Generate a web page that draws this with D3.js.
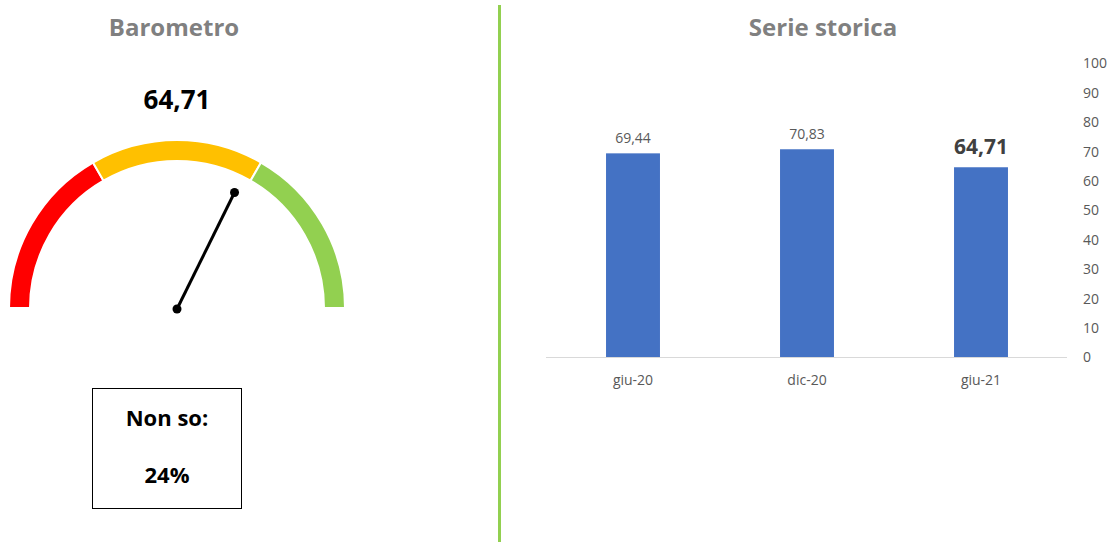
<!DOCTYPE html>
<html>
<head>
<meta charset="utf-8">
<script src="https://cdn.jsdelivr.net/npm/d3@7"></script>
<style>
  html, body { margin: 0; padding: 0; background: #fff; }
  svg { display: block; font-family: "Open Sans", "Noto Sans", sans-serif; }
</style>
</head>
<body>
<svg id="chart" width="1109" height="542"></svg>
<script>
// Gauge bands (score thresholds) and current reading
const gaugeBands = [0, 33.33, 66.67, 100];
const gaugeColors = ["#ff0000", "#ffc000", "#92d050"];
const gaugeValue = 64.71;
const gaugeLabel = "64,71";
const dontKnowLabel = "Non so:";
const dontKnowValue = "24%";

// Historical series
const periods = ["giu-20", "dic-20", "giu-21"];
const scores = [69.44, 70.83, 64.71];
const scoreLabels = ["69,44", "70,83", "64,71"];
const yTicks = [0, 10, 20, 30, 40, 50, 60, 70, 80, 90, 100];

const svg = d3.select("#chart");

// ---------- Barometro ----------
const g = svg.append("g").attr("transform", "translate(177,308)");

svg.append("text")
  .attr("x", 174).attr("y", 26)
  .attr("text-anchor", "middle").attr("dominant-baseline", "central")
  .attr("font-size", 24).attr("font-weight", 700).attr("fill", "#808080")
  .text("Barometro");

svg.append("text")
  .attr("x", 177).attr("y", 99)
  .attr("text-anchor", "middle").attr("dominant-baseline", "central")
  .attr("font-size", 26).attr("font-weight", 700).attr("fill", "#000")
  .text(gaugeLabel);

const angle = d3.scaleLinear().domain([0, 100]).range([-Math.PI / 2, Math.PI / 2]);
const arc = d3.arc().innerRadius(147).outerRadius(168);

g.selectAll("path.band")
  .data(gaugeColors)
  .join("path")
  .attr("class", "band")
  .attr("d", (c, i) => arc({ startAngle: angle(gaugeBands[i]), endAngle: angle(gaugeBands[i + 1]) }))
  .attr("fill", c => c)
  .attr("stroke", "#fff")
  .attr("stroke-width", 2);

// Needle
const needleLen = 129;
const a = angle(gaugeValue);
const nx = needleLen * Math.sin(a), ny = -needleLen * Math.cos(a);
g.append("line")
  .attr("x1", 0).attr("y1", 1).attr("x2", nx).attr("y2", ny)
  .attr("stroke", "#000").attr("stroke-width", 3);
g.append("circle").attr("cx", 0).attr("cy", 1).attr("r", 4.5).attr("fill", "#000");
g.append("circle").attr("cx", nx).attr("cy", ny).attr("r", 4.5).attr("fill", "#000");

// "Non so" box
svg.append("rect")
  .attr("x", 92.5).attr("y", 388.5).attr("width", 149).attr("height", 120)
  .attr("fill", "#fff").attr("stroke", "#000").attr("stroke-width", 1);
svg.append("text")
  .attr("x", 167).attr("y", 417)
  .attr("text-anchor", "middle").attr("dominant-baseline", "central")
  .attr("font-size", 22).attr("font-weight", 700).attr("fill", "#000")
  .text(dontKnowLabel);
svg.append("text")
  .attr("x", 167).attr("y", 474)
  .attr("text-anchor", "middle").attr("dominant-baseline", "central")
  .attr("font-size", 22).attr("font-weight", 700).attr("fill", "#000")
  .text(dontKnowValue);

// Divider
svg.append("line")
  .attr("x1", 499.5).attr("x2", 499.5).attr("y1", 5).attr("y2", 542)
  .attr("stroke", "#92d050").attr("stroke-width", 3);

// ---------- Serie storica ----------
svg.append("text")
  .attr("x", 823).attr("y", 26)
  .attr("text-anchor", "middle").attr("dominant-baseline", "central")
  .attr("font-size", 24).attr("font-weight", 700).attr("fill", "#808080")
  .text("Serie storica");

const x = d3.scaleBand().domain(periods).range([546, 1068])
  .paddingInner(0.69).paddingOuter(0.345);
const y = d3.scaleLinear().domain([0, 100]).range([357.5, 63.5]);

// Right-hand value axis
const yAxis = svg.append("g")
  .attr("transform", "translate(1076,0)")
  .call(d3.axisRight(y).tickValues(yTicks).tickSize(0).tickPadding(7).tickFormat(d3.format("d")));
yAxis.select(".domain").remove();
yAxis.selectAll("text")
  .attr("font-family", "\"Open Sans\", \"Noto Sans\", sans-serif")
  .attr("font-size", 14).attr("fill", "#595959");

// Bars
svg.selectAll("rect.bar")
  .data(scores)
  .join("rect")
  .attr("class", "bar")
  .attr("x", (d, i) => x(periods[i]))
  .attr("width", x.bandwidth())
  .attr("y", d => y(d))
  .attr("height", d => y(0) - y(d))
  .attr("fill", "#4472c4");

// Baseline / category axis
const xAxis = svg.append("g")
  .attr("transform", `translate(0,${y(0)})`)
  .call(d3.axisBottom(x).tickSize(0).tickPadding(18));
xAxis.select(".domain").attr("stroke", "#d9d9d9").attr("stroke-width", 1.2)
  .attr("d", "M546,0H1067");
xAxis.selectAll("text")
  .attr("font-family", "\"Open Sans\", \"Noto Sans\", sans-serif")
  .attr("font-size", 14).attr("fill", "#595959");

// Value labels (latest one emphasised)
const last = scores.length - 1;
svg.selectAll("text.val")
  .data(scores)
  .join("text")
  .attr("class", "val")
  .attr("x", (d, i) => x(periods[i]) + x.bandwidth() / 2)
  .attr("y", (d, i) => y(d) - (i === last ? 21 : 16))
  .attr("text-anchor", "middle").attr("dominant-baseline", "central")
  .attr("font-size", (d, i) => i === last ? 21 : 14)
  .attr("font-weight", (d, i) => i === last ? 700 : 400)
  .attr("fill", (d, i) => i === last ? "#404040" : "#595959")
  .text((d, i) => scoreLabels[i]);
</script>
</body>
</html>
